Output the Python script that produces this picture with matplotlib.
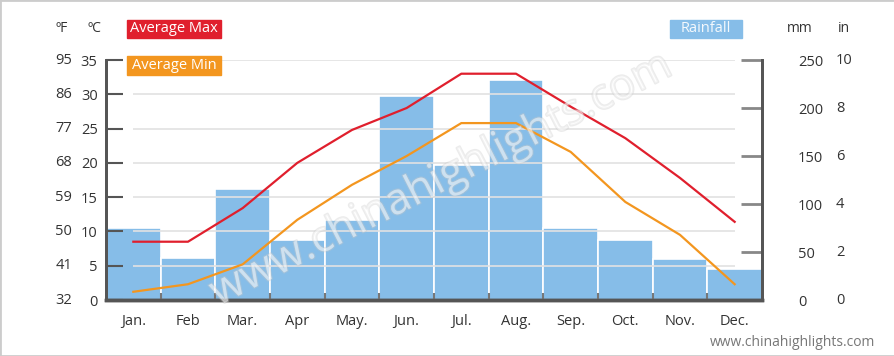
import matplotlib.pyplot as plt
import matplotlib.patheffects as pe
from matplotlib.patches import Rectangle
from matplotlib.transforms import blended_transform_factory

plt.rcParams['font.family'] = ['Open Sans', 'DejaVu Sans']

months = ['Jan.', 'Feb', 'Mar.', 'Apr', 'May.', 'Jun.', 'Jul.', 'Aug.', 'Sep.', 'Oct.', 'Nov.', 'Dec.']
rain_mm = [75, 44, 116, 63, 83, 212, 141, 229, 75, 63, 43, 32]
temp_max = [8.5, 8.5, 13.4, 20.0, 24.8, 28.0, 33.0, 33.0, 28.2, 23.6, 17.8, 11.4]
temp_min = [1.2, 2.3, 5.2, 11.7, 16.8, 21.0, 25.8, 25.8, 21.6, 14.3, 9.5, 2.3]

c_ticks = [0, 5, 10, 15, 20, 25, 30, 35]
f_labels = ['32', '41', '50', '59', '68', '77', '86', '95']
mm_ticks = [0, 50, 100, 150, 200, 250]
in_labels = ['0', '2', '4', '6', '8', '10']

red = '#e01f2d'
orange = '#f3961f'
blue = '#86bde8'
txt = '#333333'
spine = '#555555'

W, H = 895, 356
fig = plt.figure(figsize=(W / 100, H / 100), dpi=100)

def px(x, y):
    return x / W, 1 - y / H

ax = fig.add_axes([106 / W, 56 / H, 656 / W, 240 / H])
ax2 = ax.twinx()
ax.set_zorder(2)
ax2.set_zorder(1)
ax.patch.set_visible(False)

x = list(range(len(months)))

# rainfall bars (right axis)
ax2.bar(x, rain_mm, width=1.0, color=blue, edgecolor='white', linewidth=1.2)
ax2.set_ylim(0, 250)
ax2.set_yticks(mm_ticks)
ax2.set_yticklabels([str(v) for v in mm_ticks], ha='left')
ax2.tick_params(axis='y', direction='in', length=15, width=2, color='#888888',
                pad=26, labelsize=10.5, labelcolor=txt)

# temperature lines (left axis)
ax.hlines(c_ticks[1:], 0, 11, color='#e2e2e2', linewidth=1.2, zorder=1)
ax.plot(x, temp_max, color=red, linewidth=1.6, zorder=3)
ax.plot(x, temp_min, color=orange, linewidth=1.6, zorder=3)
ax.set_ylim(0, 35)
ax.set_xlim(-0.5, 11.5)
ax.set_yticks(c_ticks)
ax.set_yticklabels([str(v) for v in c_ticks])
ax.tick_params(axis='y', direction='in', length=12, width=1.5, color=spine,
               pad=6, labelsize=10.5, labelcolor=txt)
ax.set_xticks(x)
ax.set_xticklabels(months)
ax.set_xticks([i - 0.5 for i in range(1, 12)], minor=True)
ax.tick_params(axis='x', which='major', length=0, pad=10, labelsize=10.5, labelcolor=txt)
ax.tick_params(axis='x', which='minor', direction='in', length=5, width=1.5, color='#777777')

for a in (ax, ax2):
    a.spines['top'].set_visible(False)
    a.spines['left'].set_color(spine)
    a.spines['right'].set_color(spine)
    a.spines['bottom'].set_color(spine)
    a.spines['left'].set_linewidth(2)
    a.spines['right'].set_linewidth(2)
    a.spines['bottom'].set_linewidth(2.5)

# fahrenheit and inch labels
tf = blended_transform_factory(fig.transFigure, ax.transData)
for c, f in zip(c_ticks, f_labels):
    fig.text(72 / W, c, f, transform=tf, ha='right', va='center', fontsize=10.5, color=txt)
tr = blended_transform_factory(fig.transFigure, ax2.transData)
for m, i in zip(mm_ticks, in_labels):
    fig.text(836 / W, m, i, transform=tr, ha='left', va='center', fontsize=10.5, color=txt)

# unit headers
for xx, s in [(62, 'ºF'), (94, 'ºC'), (800, 'mm'), (844, 'in')]:
    fig.text(*px(xx, 29), s, ha='center', va='center', fontsize=10, color=txt)

# legend boxes
def legend_box(x0, y0, x1, y1, color, label, tcolor='white'):
    fig.patches.append(Rectangle(px(x0, y1), (x1 - x0) / W, (y1 - y0) / H,
                                 transform=fig.transFigure, color=color, zorder=5))
    fig.text(*px((x0 + x1) / 2, (y0 + y1) / 2), label, ha='center', va='center',
             fontsize=10.5, color=tcolor, zorder=6)

legend_box(127, 20, 221, 38, red, 'Average Max')
legend_box(127, 56, 221, 75, orange, 'Average Min')
legend_box(670, 20, 742, 38, blue, 'Rainfall', '#f4f9fd')

# faint outlined watermark
fig.text(*px(441, 180), 'www.chinahighlights.com', ha='center', va='center',
         rotation=27, fontsize=31, color='white', alpha=0.35, zorder=7,
         path_effects=[pe.Stroke(linewidth=1.6, foreground='#c8c8c8'), pe.Normal()])

fig.text(*px(875, 343), 'www.chinahighlights.com', ha='right', va='center',
         fontsize=10, color='#777777')

fig.patches.append(Rectangle((0, 0), 1, 1, transform=fig.transFigure, fill=False,
                             edgecolor='#cccccc', linewidth=2))

fig.savefig('out.png', dpi=100)
